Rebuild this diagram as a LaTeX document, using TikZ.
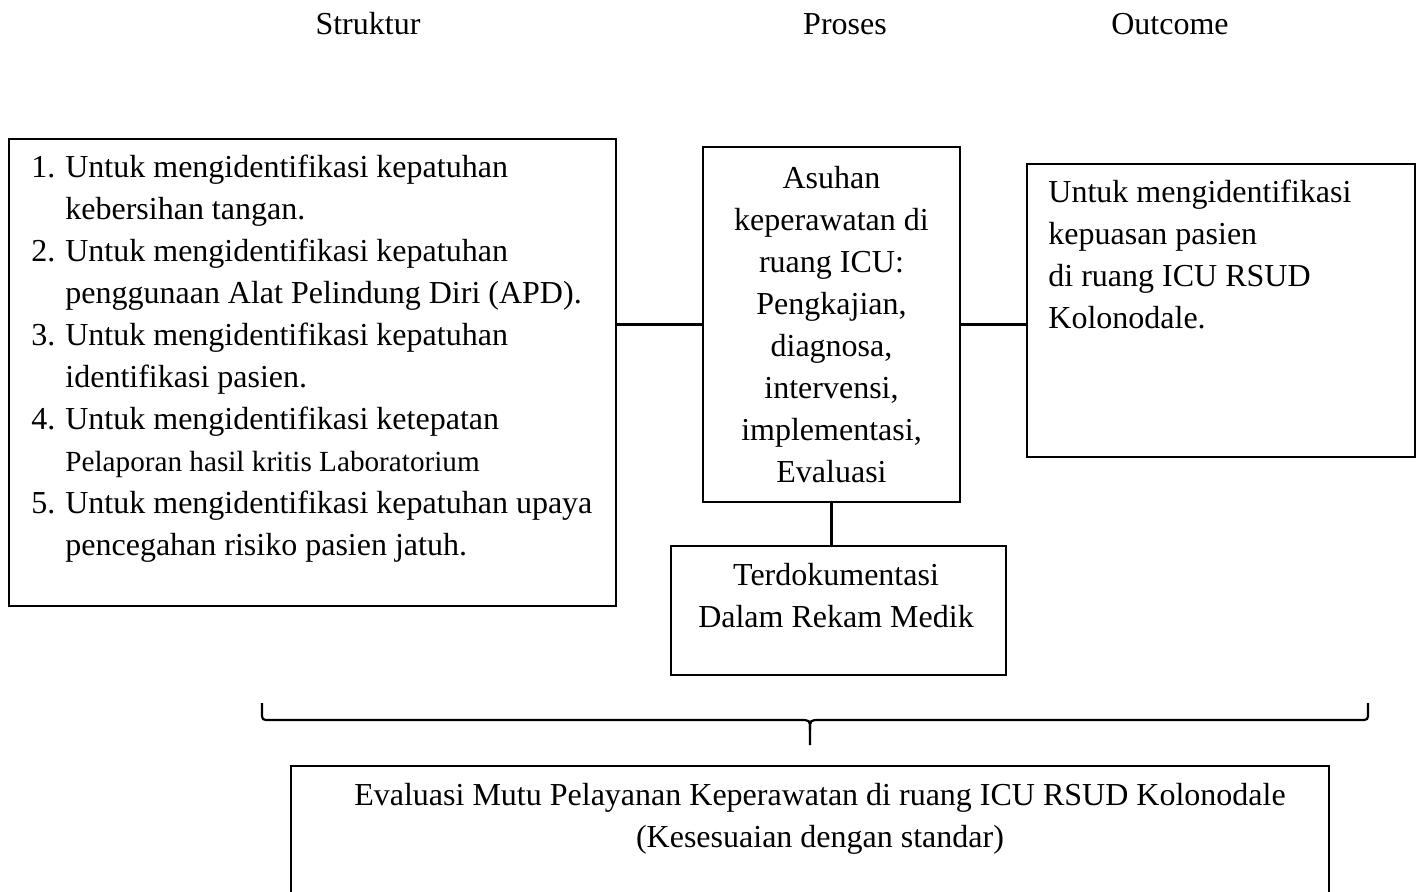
\documentclass[tikz,border=0pt]{standalone}
\usepackage{fontspec}
\setmainfont{Liberation Serif}
\usetikzlibrary{positioning}

\tikzset{kotak/.style={draw,line width=1.1pt,inner sep=0pt},
  teks/.style={inner sep=0pt},
  garis/.style={line width=1.1pt}}

\begin{document}
\begin{tikzpicture}[x=0.5pt,y=-0.5pt,font=\fontsize{16}{21}\selectfont]
\useasboundingbox (0,0) rectangle (1419,891);
\clip (0,0) rectangle (1419,891);
\node (hstruktur) at (368,24) {Struktur};
\node (hproses) at (845,24) {Proses};
\node (houtcome) at (1170,24) {Outcome};
\node[kotak,minimum width=303.5pt,minimum height=233.5pt,anchor=north west] (struktur) at (8,138) {};
\node[teks,anchor=north west] (daftar) at (31,148) {\begin{tabular}{@{}r@{\hspace{5pt}}l@{}}
1. & Untuk mengidentifikasi kepatuhan\\
   & kebersihan tangan.\\
2. & Untuk mengidentifikasi kepatuhan\\
   & penggunaan Alat Pelindung Diri (APD).\\
3. & Untuk mengidentifikasi kepatuhan\\
   & identifikasi pasien.\\
4. & Untuk mengidentifikasi ketepatan\\
   & {\fontsize{14.6}{21}\selectfont Pelaporan hasil kritis Laboratorium}\\
5. & Untuk mengidentifikasi kepatuhan upaya\\
   & pencegahan risiko pasien jatuh.
\end{tabular}};
\node[kotak,minimum width=128.5pt,minimum height=177.5pt,align=center] (proses) at (831.5,324.5)
  {Asuhan\\keperawatan di\\ruang ICU:\\Pengkajian,\\diagnosa,\\intervensi,\\implementasi,\\Evaluasi};
\node[kotak,minimum width=194pt,minimum height=146.5pt,anchor=north west] (outcome) at (1026,163) {};
\node[teks,anchor=north west] (kepuasan) at (1048,173) {\begin{tabular}{@{}l@{}}
Untuk mengidentifikasi\\kepuasan pasien\\di ruang ICU RSUD\\Kolonodale.
\end{tabular}};
\node[kotak,minimum width=167.5pt,minimum height=64.5pt,anchor=north west] (dokumen) at (670,545) {};
\node[teks] (rekam) at (836,598) {\begin{tabular}{@{}c@{}}
Terdokumentasi\\Dalam Rekam Medik
\end{tabular}};
\node[kotak,minimum width=519pt,minimum height=117.5pt,anchor=north west] (evaluasi) at (290,765) {};
\node[teks] (mutu) at (820,818) {\begin{tabular}{@{}c@{}}
Evaluasi Mutu Pelayanan Keperawatan di ruang ICU RSUD Kolonodale\\(Kesesuaian dengan standar)
\end{tabular}};
\draw[garis] (proses.west) -- (proses.west -| struktur.east);
\draw[garis] (proses.east) -- (proses.east -| outcome.west);
\draw[garis] (proses.south) -- (proses.south |- dokumen.north);
\draw[garis] (262,703) -- (262,712) .. controls (262,720) .. (270,720) -- (800,720)
  .. controls (810,720) .. (810,730) -- (810,745);
\draw[garis] (1368,703) -- (1368,712) .. controls (1368,720) .. (1360,720) -- (820,720)
  .. controls (810,720) .. (810,730);
\end{tikzpicture}
\end{document}
